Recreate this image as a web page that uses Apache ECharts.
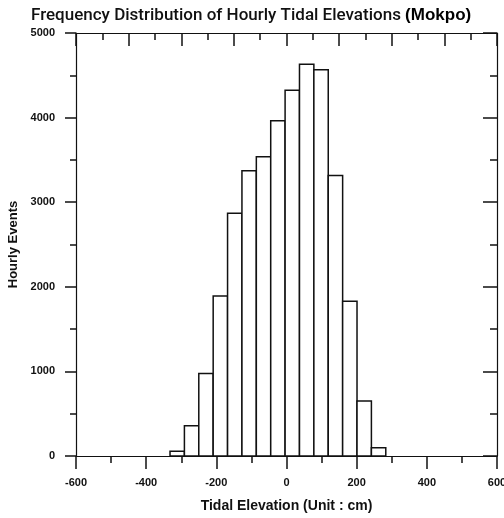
<!DOCTYPE html>
<html>
<head>
<meta charset="utf-8">
<script src="https://cdn.jsdelivr.net/npm/echarts@6/dist/echarts.min.js"></script>
<style>
html,body{margin:0;padding:0;background:#fff;}
#chart{width:504px;height:518px;}
</style>
</head>
<body>
<div id="chart"></div>
<script>
// Bin lower edges (cm), bin width, and counts (hourly events)
var binStarts = [-332, -291, -250, -209, -168, -127, -86, -45, -4, 37, 78, 119, 160, 201, 242];
var binWidth = 41;
var counts = [55, 357, 975, 1890, 2869, 3373, 3538, 3962, 4324, 4631, 4567, 3317, 1828, 649, 98];

var titleText = 'Frequency Distribution of Hourly Tidal Elevations ';
var titleBold = '(Mokpo)';
var xName = 'Tidal Elevation (Unit : cm)';
var yName = 'Hourly Events';

var data = binStarts.map(function (s, i) { return [s, s + binWidth, counts[i]]; });

var chart = echarts.init(document.getElementById('chart'), null, {renderer: 'canvas'});
var FONT = 'Liberation Sans, Arial, sans-serif';
var axisLineStyle = {color: '#111', width: 1.2};
function plain(v) { return String(v); }

chart.setOption({
  animation: false,
  backgroundColor: '#fff',
  title: {
    text: '{a|' + titleText + '}{b|' + titleBold + '}',
    left: 26, top: 2,
    textStyle: {
      rich: {
        a: {fontFamily: 'Roboto, Liberation Sans, sans-serif', fontSize: 17, fontWeight: 500, color: '#111'},
        b: {fontFamily: FONT, fontSize: 17, fontWeight: 'bold', color: '#000'}
      }
    }
  },
  grid: {left: 76, right: 7, top: 33, bottom: 62, outerBoundsMode: 'none', containLabel: false},
  xAxis: [{
    type: 'value', min: -600, max: 600, interval: 200, position: 'bottom',
    name: xName, nameLocation: 'middle', nameGap: 43,
    nameTextStyle: {fontFamily: FONT, fontSize: 14, fontWeight: 'bold', color: '#111'},
    axisLine: {show: true, onZero: false, lineStyle: axisLineStyle},
    axisTick: {show: true, inside: false, length: 13, lineStyle: {color: '#111', width: 1.5}},
    minorTick: {show: true, splitNumber: 2, length: 7, lineStyle: {color: '#111', width: 1.5}},
    axisLabel: {fontFamily: FONT, fontSize: 11, fontWeight: 'bold', color: '#111', margin: 21, formatter: plain},
    splitLine: {show: false}
  }, {
    type: 'value', min: -600, max: 600, interval: 150, position: 'top',
    axisLine: {show: true, onZero: false, lineStyle: axisLineStyle},
    axisTick: {show: true, inside: true, length: 13, lineStyle: {color: '#111', width: 1.5}},
    minorTick: {show: true, splitNumber: 2, length: 7, lineStyle: {color: '#111', width: 1.5}},
    axisLabel: {show: false},
    splitLine: {show: false}
  }],
  yAxis: [{
    type: 'value', min: 0, max: 5000, interval: 1000, position: 'left',
    name: yName, nameLocation: 'middle', nameGap: 55, nameRotate: 90,
    nameTextStyle: {fontFamily: FONT, fontSize: 13, fontWeight: 'bold', color: '#111'},
    axisLine: {show: true, onZero: false, lineStyle: axisLineStyle},
    axisTick: {show: true, inside: false, length: 11, lineStyle: {color: '#111', width: 1.5}},
    minorTick: {show: true, splitNumber: 2, length: 6, lineStyle: {color: '#111', width: 1.5}},
    axisLabel: {fontFamily: FONT, fontSize: 11, fontWeight: 'bold', color: '#111', margin: 21, formatter: plain},
    splitLine: {show: false}
  }, {
    type: 'value', min: 0, max: 5000, interval: 1000, position: 'right',
    axisLine: {show: true, onZero: false, lineStyle: axisLineStyle},
    axisTick: {show: true, inside: true, length: 14, lineStyle: {color: '#111', width: 1.5}},
    minorTick: {show: true, splitNumber: 2, length: 7, lineStyle: {color: '#111', width: 1.5}},
    axisLabel: {show: false},
    splitLine: {show: false}
  }],
  series: [{
    type: 'custom',
    xAxisIndex: 0, yAxisIndex: 0,
    data: data,
    renderItem: function (params, api) {
      var p0 = api.coord([api.value(0), api.value(2)]);
      var p1 = api.coord([api.value(1), 0]);
      return {
        type: 'rect',
        shape: {x: p0[0], y: p0[1], width: p1[0] - p0[0], height: p1[1] - p0[1]},
        style: {fill: '#fff', stroke: '#111', lineWidth: 1.5}
      };
    }
  }]
});
</script>
</body>
</html>
